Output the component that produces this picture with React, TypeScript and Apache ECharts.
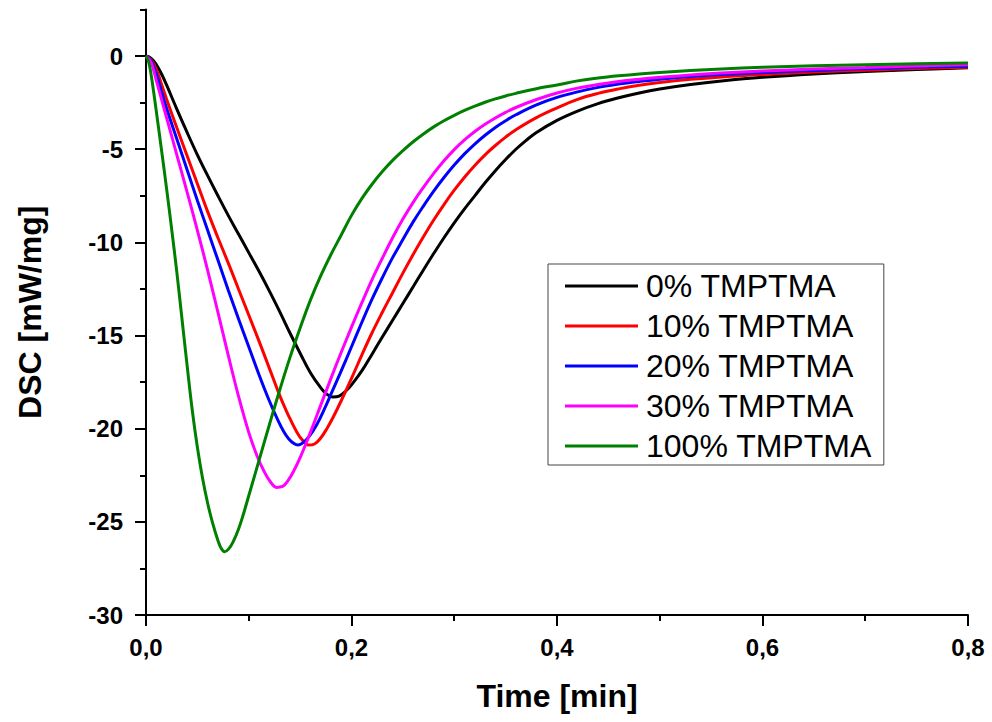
import React, { useEffect, useRef } from 'react';
import * as echarts from 'echarts';

const FONT = "'Liberation Sans', Arial, Helvetica, sans-serif";

const seriesNames = ['0% TMPTMA', '10% TMPTMA', '20% TMPTMA', '30% TMPTMA', '100% TMPTMA'];
const seriesColors = ['#000000', '#ff0000', '#0000ff', '#ff00ff', '#008000'];

// x axis: Time [min]
const xMin = 0;
const xMax = 0.8;
const xStep = 0.2;
// y axis: DSC [mW/mg]
const yMin = -30;
const yMax = 2.5;
const yMajorStep = 5;
const yMinorStep = 2.5;

// [time, DSC]
const dsc0: [number, number][] = [
  [0, 0], [0.005, -0.12], [0.01, -0.45], [0.015, -0.95], [0.02, -1.55], [0.03, -2.85],
  [0.04, -4.1], [0.05, -5.3], [0.06, -6.42], [0.07, -7.5], [0.08, -8.55], [0.09, -9.55],
  [0.1, -10.55], [0.11, -11.55], [0.12, -12.6], [0.13, -13.7], [0.14, -14.85], [0.15, -15.95],
  [0.16, -17.0], [0.17, -17.8], [0.176, -18.15], [0.182, -18.3], [0.188, -18.25], [0.195, -17.95],
  [0.2, -17.65], [0.21, -16.9], [0.22, -16.0], [0.23, -15.08], [0.24, -14.18], [0.25, -13.28],
  [0.26, -12.38], [0.27, -11.48], [0.28, -10.6], [0.29, -9.75], [0.3, -8.95], [0.31, -8.2],
  [0.32, -7.5], [0.33, -6.8], [0.34, -6.15], [0.35, -5.55], [0.36, -5.0], [0.37, -4.52],
  [0.38, -4.1], [0.4, -3.45], [0.42, -2.95], [0.44, -2.55], [0.46, -2.24], [0.48, -1.98],
  [0.5, -1.77], [0.53, -1.53], [0.56, -1.34], [0.6, -1.14], [0.65, -0.96], [0.7, -0.83],
  [0.75, -0.72], [0.8, -0.63],
];
const dsc10: [number, number][] = [
  [0, 0], [0.005, -0.2], [0.01, -0.7], [0.015, -1.5], [0.02, -2.3], [0.03, -3.85],
  [0.04, -5.35], [0.05, -6.85], [0.06, -8.35], [0.07, -9.75], [0.08, -11.1], [0.09, -12.5],
  [0.1, -13.9], [0.11, -15.3], [0.12, -16.75], [0.13, -18.2], [0.137, -19.1], [0.14, -19.45],
  [0.147, -20.2], [0.152, -20.6], [0.158, -20.88], [0.164, -20.82], [0.17, -20.5], [0.176, -20.0],
  [0.182, -19.4], [0.19, -18.5], [0.2, -17.3], [0.21, -16.05], [0.22, -14.85], [0.23, -13.75],
  [0.24, -12.7], [0.25, -11.65], [0.26, -10.65], [0.27, -9.7], [0.28, -8.8], [0.29, -7.97],
  [0.3, -7.2], [0.31, -6.5], [0.32, -5.87], [0.33, -5.3], [0.34, -4.8], [0.35, -4.35],
  [0.36, -3.95], [0.38, -3.3], [0.4, -2.78], [0.42, -2.32], [0.44, -2.0], [0.46, -1.76],
  [0.48, -1.57], [0.5, -1.42], [0.53, -1.25], [0.56, -1.12], [0.6, -0.99], [0.65, -0.86],
  [0.7, -0.76], [0.75, -0.67], [0.8, -0.6],
];
const dsc20: [number, number][] = [
  [0, 0], [0.005, -0.25], [0.01, -0.95], [0.015, -1.9], [0.02, -2.8], [0.03, -4.45],
  [0.04, -6.1], [0.05, -7.75], [0.06, -9.35], [0.07, -10.95], [0.08, -12.55], [0.09, -14.1],
  [0.1, -15.6], [0.11, -17.1], [0.12, -18.5], [0.128, -19.5], [0.134, -20.15], [0.139, -20.55],
  [0.144, -20.8], [0.148, -20.88], [0.153, -20.75], [0.159, -20.4], [0.166, -19.8], [0.174, -18.9],
  [0.18, -18.15], [0.19, -16.9], [0.2, -15.6], [0.21, -14.3], [0.22, -13.05], [0.23, -11.9],
  [0.24, -10.82], [0.25, -9.85], [0.26, -8.9], [0.27, -8.05], [0.28, -7.25], [0.29, -6.52],
  [0.3, -5.85], [0.31, -5.25], [0.32, -4.72], [0.33, -4.25], [0.34, -3.83], [0.35, -3.47],
  [0.36, -3.15], [0.38, -2.62], [0.4, -2.22], [0.42, -1.92], [0.44, -1.68], [0.46, -1.5],
  [0.48, -1.36], [0.5, -1.24], [0.53, -1.1], [0.56, -0.99], [0.6, -0.88], [0.65, -0.77],
  [0.7, -0.68], [0.75, -0.6], [0.8, -0.54],
];
const dsc30: [number, number][] = [
  [0, 0], [0.005, -0.35], [0.01, -1.3], [0.015, -2.3], [0.02, -3.3], [0.03, -5.3],
  [0.04, -7.3], [0.05, -9.35], [0.06, -11.5], [0.07, -13.75], [0.08, -16.05], [0.09, -18.25],
  [0.1, -20.2], [0.108, -21.45], [0.115, -22.3], [0.121, -22.85], [0.127, -23.15], [0.133, -23.1],
  [0.138, -22.8], [0.143, -22.35], [0.15, -21.55], [0.16, -20.2], [0.17, -18.75], [0.18, -17.3],
  [0.19, -15.9], [0.2, -14.55], [0.21, -13.25], [0.22, -12.0], [0.23, -10.85], [0.24, -9.75],
  [0.25, -8.75], [0.26, -7.85], [0.27, -7.05], [0.28, -6.3], [0.29, -5.62], [0.3, -5.02],
  [0.31, -4.5], [0.32, -4.05], [0.33, -3.66], [0.34, -3.32], [0.35, -3.02], [0.36, -2.76],
  [0.38, -2.33], [0.4, -1.98], [0.42, -1.72], [0.44, -1.52], [0.46, -1.36], [0.48, -1.24],
  [0.5, -1.14], [0.53, -1.01], [0.56, -0.91], [0.6, -0.8], [0.65, -0.69], [0.7, -0.61],
  [0.75, -0.53], [0.8, -0.47],
];
const dsc100: [number, number][] = [
  [0, 0], [0.0025, -0.3], [0.005, -1.0], [0.0075, -1.95], [0.01, -2.95], [0.015, -5.0],
  [0.02, -7.1], [0.025, -9.3], [0.03, -11.6], [0.035, -14.1], [0.04, -16.6], [0.045, -19.0],
  [0.05, -21.0], [0.055, -22.65], [0.06, -24.0], [0.065, -25.1], [0.07, -26.0], [0.073, -26.4],
  [0.0765, -26.6], [0.0805, -26.45], [0.085, -26.05], [0.09, -25.4], [0.095, -24.55], [0.1, -23.6],
  [0.11, -21.7], [0.12, -19.8], [0.13, -17.95], [0.14, -16.2], [0.15, -14.6], [0.16, -13.1],
  [0.17, -11.8], [0.18, -10.65], [0.19, -9.6], [0.2, -8.55], [0.21, -7.65], [0.22, -6.88],
  [0.23, -6.2], [0.24, -5.6], [0.25, -5.08], [0.26, -4.6], [0.27, -4.18], [0.28, -3.8],
  [0.29, -3.47], [0.3, -3.18], [0.31, -2.92], [0.32, -2.69], [0.33, -2.48], [0.34, -2.3],
  [0.35, -2.14], [0.36, -2.0], [0.38, -1.75], [0.4, -1.55], [0.42, -1.33], [0.44, -1.18],
  [0.46, -1.06], [0.48, -0.96], [0.5, -0.88], [0.53, -0.78], [0.56, -0.69], [0.6, -0.6],
  [0.65, -0.52], [0.7, -0.46], [0.75, -0.41], [0.8, -0.37],
];

const seriesData = [dsc0, dsc10, dsc20, dsc30, dsc100];

const blackLine = { color: '#000000', width: 2 };

export default function App() {
  const ref = useRef<HTMLDivElement | null>(null);

  useEffect(() => {
    if (!ref.current) return;
    const chart = echarts.init(ref.current, undefined, { renderer: 'svg' });
    const top0 = 9.5;
    const bottom = 107;
    const plotH = 722 - top0 - bottom;
    const top1 = top0 + (plotH * (yMax - 0)) / (yMax - yMin);

    const option: any = {
      animation: false,
      backgroundColor: '#ffffff',
      textStyle: { fontFamily: FONT },
      grid: [
        { left: 146, right: 24, top: top0, bottom },
        { left: 146, right: 24, top: top1, bottom },
      ],
      legend: {
        orient: 'vertical',
        left: 548,
        top: 264,
        padding: [4, 12, 1, 17],
        itemWidth: 73,
        itemHeight: 3,
        itemGap: 4,
        icon: 'rect',
        borderColor: '#444444',
        borderWidth: 1,
        backgroundColor: '#ffffff',
        selectedMode: false,
        data: seriesNames,
        textStyle: {
          fontFamily: FONT,
          fontSize: 32,
          lineHeight: 36,
          color: '#000000',
          padding: [0, 0, 0, 3],
        },
      },
      xAxis: [
        {
          type: 'value',
          gridIndex: 0,
          min: xMin,
          max: xMax,
          interval: xStep,
          axisLine: { show: true, onZero: false, lineStyle: blackLine },
          axisTick: { show: true, length: 11, lineStyle: blackLine },
          minorTick: { show: true, splitNumber: 2, length: 6, lineStyle: blackLine },
          splitLine: { show: false },
          minorSplitLine: { show: false },
          axisLabel: {
            margin: 20,
            fontSize: 24,
            fontWeight: 'bold',
            color: '#000000',
            fontFamily: FONT,
            formatter: (v: number) => v.toFixed(1).replace('.', ','),
          },
          name: 'Time [min]',
          nameLocation: 'middle',
          nameGap: 65,
          nameTextStyle: { fontSize: 32, fontWeight: 'bold', color: '#000000', fontFamily: FONT },
        },
        { type: 'value', gridIndex: 1, min: xMin, max: xMax, show: false },
      ],
      yAxis: [
        {
          type: 'value',
          gridIndex: 0,
          min: yMin,
          max: yMax,
          interval: yMinorStep,
          axisLine: { show: true, onZero: false, lineStyle: blackLine },
          axisTick: { show: true, length: 6, lineStyle: blackLine },
          axisLabel: { show: false },
          splitLine: { show: false },
          name: 'DSC [mW/mg]',
          nameLocation: 'middle',
          nameGap: 100,
          nameTextStyle: { fontSize: 32, fontWeight: 'bold', color: '#000000', fontFamily: FONT },
        },
        {
          type: 'value',
          gridIndex: 1,
          min: yMin,
          max: 0,
          interval: yMajorStep,
          axisLine: { show: false, onZero: false },
          axisTick: { show: true, length: 11, lineStyle: blackLine },
          axisLabel: {
            margin: 23,
            fontSize: 24,
            fontWeight: 'bold',
            color: '#000000',
            fontFamily: FONT,
          },
          splitLine: { show: false },
        },
      ],
      series: seriesNames.map((name, i) => ({
        name,
        type: 'line',
        xAxisIndex: 0,
        yAxisIndex: 0,
        data: seriesData[i],
        symbol: 'none',
        showSymbol: false,
        smooth: 0.4,
        lineStyle: { color: seriesColors[i], width: 3 },
        itemStyle: { color: seriesColors[i] },
        clip: true,
        z: 2 + i,
      })),
    };

    chart.setOption(option);
    return () => {
      chart.dispose();
    };
  }, []);

  return (
    <div
      ref={ref}
      style={{ position: 'fixed', left: 0, top: 0, width: 992, height: 722, background: '#fff' }}
    />
  );
}
